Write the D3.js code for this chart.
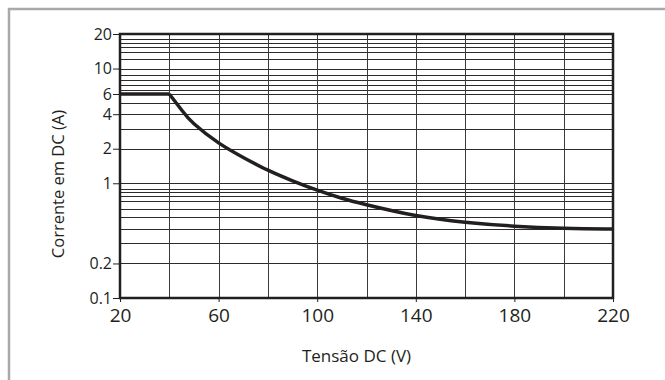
<!DOCTYPE html>
<html>
<head>
<meta charset="utf-8">
<script src="https://cdn.jsdelivr.net/npm/d3@7"></script>
<style>
  html, body { margin: 0; padding: 0; background: #fff; }
  svg { display: block; }
  text { font-family: "Open Sans", sans-serif; fill: #231f20; }
</style>
</head>
<body>
<svg id="chart" width="665" height="380"></svg>
<script>
// ---- data ----
const voltage = [20, 40, 45, 50, 60, 70, 80, 90, 100, 110, 120, 140, 160, 180, 200, 220];
const current = [6, 6, 4.35, 3.3, 2.25, 1.68, 1.3, 1.05, 0.87, 0.74, 0.65, 0.523, 0.458, 0.423, 0.406, 0.40];
const xTicks = [20, 60, 100, 140, 180, 220];
const xGrid = [40, 60, 80, 100, 120, 140, 160, 180, 200];
const yTicks = [20, 10, 6, 4, 2, 1, 0.2, 0.1];
const yTickLabels = ["20", "10", "6", "4", "2", "1", "0.2", "0.1"];
const yGrid = [18, 16.8, 15.4, 13.8, 12, 10, 8.7, 7.9, 7.2, 6.5, 6, 5, 4, 3, 2,
               1, 0.9, 0.845, 0.78, 0.7, 0.6, 0.51, 0.4, 0.3, 0.2];
const xTitle = "Tensão DC (V)";
const yTitle = "Corrente em DC (A)";

// ---- layout ----
const svg = d3.select("#chart");
const pL = 120, pR = 613, pT = 34, pB = 298;
const ink = "#231f20";

const x = d3.scaleLinear().domain([20, 220]).range([pL, pR]);
const y = d3.scaleLog().domain([0.1, 20]).range([pB, pT]);

// outer frame (extends past the right / bottom edge)
svg.append("rect")
  .attr("x", 9).attr("y", 9).attr("width", 720).attr("height", 420)
  .attr("fill", "none").attr("stroke", "#a7a9ac").attr("stroke-width", 2.5);

// grid
const g = svg.append("g");
g.selectAll("line.h").data(yGrid).join("line")
  .attr("class", "h")
  .attr("x1", pL).attr("x2", pR)
  .attr("y1", d => Math.round(y(d)) + 0.5).attr("y2", d => Math.round(y(d)) + 0.5)
  .attr("stroke", "#2b2b2b").attr("stroke-width", 1);
g.selectAll("line.v").data(xGrid).join("line")
  .attr("class", "v")
  .attr("y1", pT).attr("y2", pB)
  .attr("x1", d => Math.round(x(d)) + 0.5).attr("x2", d => Math.round(x(d)) + 0.5)
  .attr("stroke", "#3a3a3a").attr("stroke-width", 1);

// axes (ticks + labels)
const yAxis = d3.axisLeft(y).tickValues(yTicks)
  .tickFormat((d, i) => yTickLabels[i]).tickSize(7).tickPadding(1);
const ya = svg.append("g").attr("transform", `translate(${pL},0)`).call(yAxis);
ya.select(".domain").remove();
ya.selectAll("line").attr("stroke", ink).attr("stroke-width", 1);
ya.selectAll("text").style("font-size", "16px").attr("fill", ink)
  .attr("font-family", "Open Sans");

const xAxis = d3.axisBottom(x).tickValues(xTicks).tickSize(4).tickPadding(7)
  .tickFormat(d3.format("d"));
const xa = svg.append("g").attr("transform", `translate(0,${pB})`).call(xAxis);
xa.select(".domain").remove();
xa.selectAll("line").attr("stroke", ink).attr("stroke-width", 1);
xa.selectAll("text").style("font-size", "19px").attr("fill", ink)
  .attr("font-family", "Open Sans");

// plot border
svg.append("rect")
  .attr("x", pL).attr("y", pT)
  .attr("width", pR - pL).attr("height", pB - pT)
  .attr("fill", "none").attr("stroke", ink).attr("stroke-width", 2.5);

// curve: flat part linear, decaying part smooth
const pts = voltage.map((v, i) => [v, current[i]]);
const flat = pts.filter(p => p[0] <= 40);
const decay = pts.filter(p => p[0] >= 40);
const lineLin = d3.line().x(d => x(d[0])).y(d => y(d[1]));
const lineSmooth = d3.line().x(d => x(d[0])).y(d => y(d[1])).curve(d3.curveNatural);
svg.append("path").attr("d", lineLin(flat))
  .attr("fill", "none").attr("stroke", ink).attr("stroke-width", 3.5);
svg.append("path").attr("d", lineSmooth(decay))
  .attr("fill", "none").attr("stroke", ink).attr("stroke-width", 3.5)
  .attr("stroke-linejoin", "round");

// titles
svg.append("text")
  .attr("x", (pL + pR) / 2 - 10).attr("y", 362)
  .attr("text-anchor", "middle").style("font-size", "17px")
  .text(xTitle);
svg.append("text")
  .attr("transform", `translate(64,${(pT + pB) / 2 + 18}) rotate(-90)`)
  .attr("text-anchor", "middle").style("font-size", "16.5px")
  .text(yTitle);
</script>
</body>
</html>
